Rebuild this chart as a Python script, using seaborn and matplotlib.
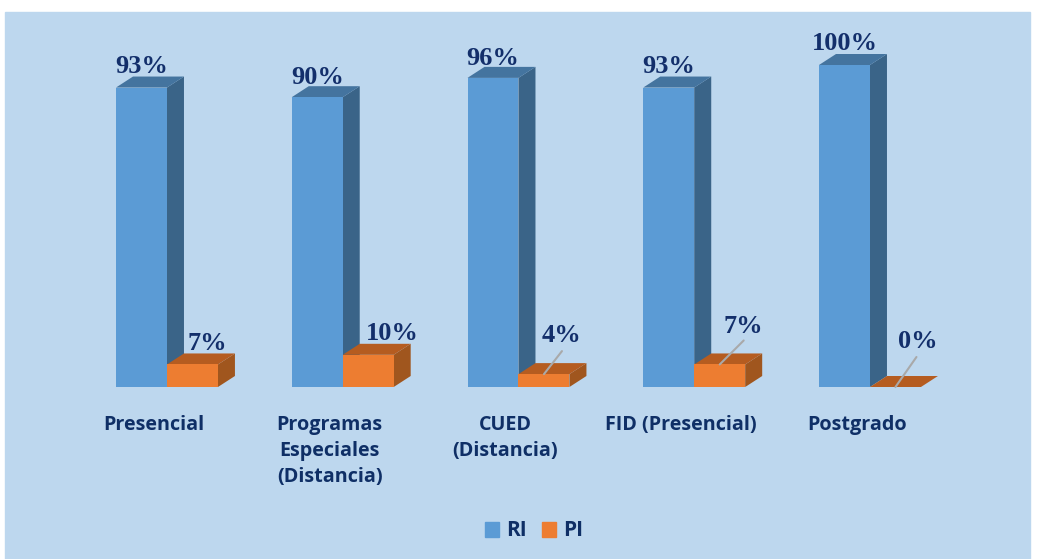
import pandas as pd
import matplotlib
matplotlib.use('Agg')
import matplotlib.pyplot as plt
import seaborn as sns
from matplotlib.patches import Polygon, Rectangle
from matplotlib.transforms import ScaledTranslation

categorias = ['Presencial', 'Programas\nEspeciales\n(Distancia)', 'CUED\n(Distancia)', 'FID (Presencial)', 'Postgrado']
ri = [93, 90, 96, 93, 100]
pi = [7, 10, 4, 7, 0]

W, H = 1038, 559
NAVY = '#132F6B'
LABEL = '#0F2F66'
colores = {'RI': '#5B9BD5', 'PI': '#ED7D31'}
lados = {'RI': '#3A6488', 'PI': '#A0561E'}
techos = {'RI': '#44749F', 'PI': '#B55C20'}

data = pd.DataFrame({'cat': categorias * 2, 'serie': ['RI'] * 5 + ['PI'] * 5, 'valor': ri + pi})

sns.set_theme(style='white')
fig = plt.figure(figsize=(W / 100, H / 100), dpi=100, facecolor='white')
fig.add_artist(Rectangle((5 / W, 0), 1025 / W, 547 / H, transform=fig.transFigure, color='#BDD7EE', zorder=-5))

# pixel box of the plot: baseline at y=387, 100% at y=65
ax = fig.add_axes([79.1 / W, (H - 387) / H, 878.75 / W, 322 / H])
ax.patch.set_alpha(0)
sns.barplot(data=data, x='cat', y='valor', hue='serie', palette=colores, width=0.58, dodge=True,
            saturation=1, ax=ax, legend=True, zorder=2, linewidth=0)
ax.set_xlim(-0.5, 4.5)
ax.set_ylim(0, 100)
ax.set_xlabel('')
ax.set_ylabel('')
ax.set_yticks([])
sns.despine(ax=ax, left=True, bottom=True)

# fake 3d depth
dx = 17 / 175.75
dy = 11 / 3.22
for n, (nombre, cont) in enumerate(zip(['RI', 'PI'], ax.containers)):
    for bar in cont:
        x0 = bar.get_x()
        x1 = x0 + bar.get_width()
        h = bar.get_height()
        if h > 0:
            ax.add_patch(Polygon([(x1, 0), (x1 + dx, dy), (x1 + dx, h + dy), (x1, h)], color=lados[nombre],
                                 lw=0, zorder=0.5 + n, clip_on=False))
        ax.add_patch(Polygon([(x0, h), (x0 + dx, h + dy), (x1 + dx, h + dy), (x1, h)], color=techos[nombre],
                             lw=0, zorder=0.6 + n, clip_on=False))

# value labels, offsets in pixels from the bar top centre
off_ri = [(0, 21), (0, 20), (0, 19), (0, 21), (0, 21)]
off_pi = [(15, 21), (24, 21), (18, 39), (24, 38), (22, 45)]
lineas = [None, None, (18, 23), (24, 24), (21, 30)]
for cont, vals, offs in zip(ax.containers, [ri, pi], [off_ri, off_pi]):
    for bar, v, (ox, oy) in zip(cont, vals, offs):
        ax.annotate(f'{v}%', (bar.get_x() + bar.get_width() / 2, v), xytext=(ox * 0.72, oy * 0.72),
                    textcoords='offset points', ha='center', va='center', annotation_clip=False,
                    family='Liberation Serif', weight='bold', fontsize=19, color=NAVY, zorder=6)

for bar, v, seg in zip(ax.containers[1], pi, lineas):
    if seg is None:
        continue
    ax.annotate('', (bar.get_x() + bar.get_width() / 2, v), xytext=seg, textcoords='offset pixels',
                arrowprops=dict(arrowstyle='-', color='#A9A9A9', lw=1.5, shrinkA=0, shrinkB=0), zorder=5)

ax.tick_params(axis='x', length=0, pad=20)
ax.set_xticks(range(5))
ax.set_xticklabels(categorias, family='Open Sans', weight='bold', fontsize=14.2, color=LABEL, linespacing=1.4)
for lab in ax.get_xticklabels():
    lab.set_transform(lab.get_transform() + ScaledTranslation(-13 / 100, 0, fig.dpi_scale_trans))

ax.legend_.remove()
handles = [Rectangle((0, 0), 1, 1, color=colores[k]) for k in ['RI', 'PI']]
fig.legend(handles, ['RI', 'PI'], loc='center', bbox_to_anchor=(534 / W, (H - 531) / H), ncol=2, frameon=False,
           handlelength=0.7, handleheight=0.7, handletextpad=0.35, columnspacing=0.7,
           prop={'family': 'Open Sans', 'weight': 'bold', 'size': 15}, labelcolor=LABEL)

fig.savefig('out.png', dpi=100)
